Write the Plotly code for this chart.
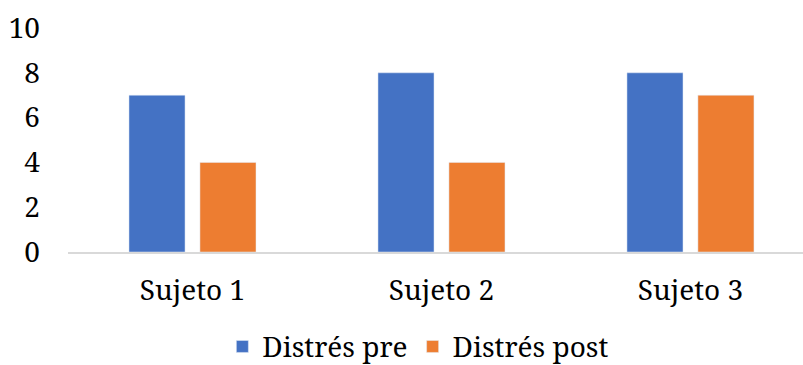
import plotly.graph_objects as go

categories = ["Sujeto 1", "Sujeto 2", "Sujeto 3"]
pre = [7, 8, 8]
post = [4, 4, 7]
y_ticks = [0, 2, 4, 6, 8, 10]

FONT = "Noto Serif"
SIZE = 28

fig = go.Figure()
fig.add_trace(go.Bar(name="Distrés pre", x=categories, y=pre, marker_color="#4472C4"))
fig.add_trace(go.Bar(name="Distrés post", x=categories, y=post, marker_color="#ED7D31"))

fig.update_layout(
    width=803,
    height=365,
    margin=dict(l=68, r=0, t=28, b=113, autoexpand=False),
    paper_bgcolor="white",
    plot_bgcolor="white",
    barmode="group",
    bargap=0.43,
    bargroupgap=0.21,
    font=dict(family=FONT, size=SIZE, color="#000000"),
    showlegend=True,
    legend=dict(
        orientation="h",
        xref="container",
        yref="container",
        x=0.521,
        xanchor="center",
        y=0.05,
        yanchor="middle",
        font=dict(family=FONT, size=SIZE, color="#000000"),
        itemwidth=30,
        traceorder="normal",
    ),
)

fig.update_xaxes(
    type="category",
    range=[-0.5, 2.452],
    showline=True,
    linecolor="#D9D9D9",
    linewidth=2,
    showgrid=False,
    ticks="",
    ticklabelstandoff=12,
    tickfont=dict(family=FONT, size=SIZE, color="#000000"),
)

fig.update_yaxes(
    range=[0, 10],
    tickvals=y_ticks,
    showgrid=False,
    zeroline=False,
    showline=False,
    ticks="",
    ticklabelstandoff=27,
    tickfont=dict(family=FONT, size=SIZE, color="#000000"),
)

fig.write_html("out.html")
